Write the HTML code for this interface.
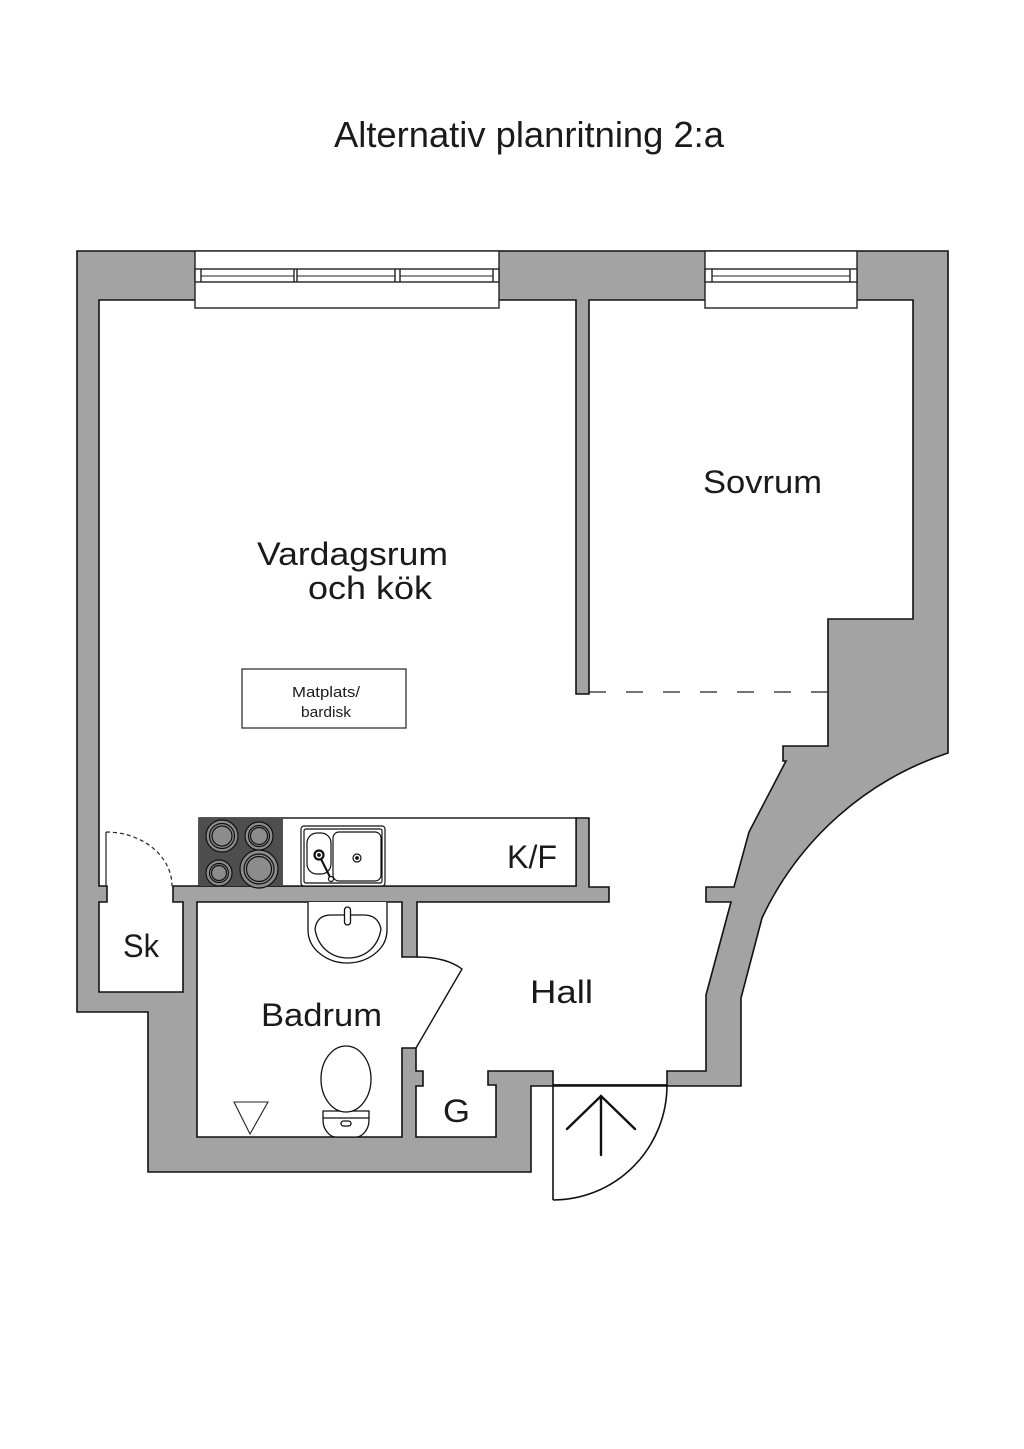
<!DOCTYPE html>
<html><head><meta charset="utf-8"><style>
html,body{margin:0;padding:0;background:#fff;}
svg{display:block;}
text{font-family:"Liberation Sans","DejaVu Sans",sans-serif;fill:#1a1a1a;}
</style></head><body>
<svg width="1024" height="1449" viewBox="0 0 1024 1449" xmlns="http://www.w3.org/2000/svg">
<rect width="1024" height="1449" fill="#fff"/>
<text x="334" y="147" font-size="36" textLength="390" lengthAdjust="spacingAndGlyphs">Alternativ planritning 2:a</text>

<!-- outer walls -->
<path d="M77,251 L948,251 L948,753 A314,314 0 0 0 762,918 L741,998 L741,1086 L553,1086 L531,1086 L531,1172 L148,1172 L148,1012 L77,1012 Z" fill="#a3a3a3" stroke="#111" stroke-width="1.6" stroke-linejoin="miter"/>

<!-- interior -->
<path d="M99,300 L576,300 L576,694 L589,694 L589,300 L913,300 L913,619 L828,619 L828,746 L783,746 L783,761 L786,761 L749,832 L734,887 L706,887 L706,902 L731,902 L706,995 L706,1071 L667,1071 L667,1085 L553,1085 L553,1071 L488,1071 L488,1085 L496,1085 L496,1137 L416,1137 L416,1086 L423,1086 L423,1071 L416,1071 L416,1048 L402,1048 L402,1137 L197,1137 L197,902 L402,902 L402,957 L417,957 L417,902 L609,902 L609,887 L589,887 L589,818 L576,818 L576,886 L173,886 L173,902 L183,902 L183,992 L99,992 L99,902 L107,902 L107,886 L99,886 Z" fill="#fff" stroke="#111" stroke-width="1.6"/>

<!-- windows -->
<g stroke="#222" stroke-width="1.4" fill="#fff">
<rect x="195" y="251" width="304" height="57"/>
<rect x="195" y="269" width="304" height="13"/>
<line x1="201" y1="269" x2="201" y2="282"/>
<line x1="294" y1="269" x2="294" y2="282"/>
<line x1="297" y1="269" x2="297" y2="282"/>
<line x1="395" y1="269" x2="395" y2="282"/>
<line x1="400" y1="269" x2="400" y2="282"/>
<line x1="493" y1="269" x2="493" y2="282"/>
<line x1="201" y1="276" x2="294" y2="276" stroke-width="1"/>
<line x1="297" y1="276" x2="395" y2="276" stroke-width="1"/>
<line x1="400" y1="276" x2="493" y2="276" stroke-width="1"/>
<rect x="705" y="251" width="152" height="57"/>
<rect x="705" y="269" width="152" height="13"/>
<line x1="712" y1="269" x2="712" y2="282"/>
<line x1="850" y1="269" x2="850" y2="282"/>
<line x1="712" y1="276" x2="850" y2="276" stroke-width="1"/>
</g>

<!-- dashed line -->
<line x1="589" y1="692" x2="828" y2="692" stroke="#222" stroke-width="1.2" stroke-dasharray="17 20"/>

<!-- Matplats box -->
<rect x="242" y="669" width="164" height="59" fill="#fff" stroke="#333" stroke-width="1.3"/>
<text x="292" y="697" font-size="15" textLength="68" lengthAdjust="spacingAndGlyphs">Matplats/</text>
<text x="301" y="717" font-size="15" textLength="50" lengthAdjust="spacingAndGlyphs">bardisk</text>

<!-- kitchen counter -->
<rect x="199" y="818" width="377" height="68" fill="#fff" stroke="#111" stroke-width="1.4"/>
<rect x="199" y="818" width="84" height="68" fill="#4e4e4e"/>
<g stroke="#111" stroke-width="1.2" fill="#8c8c8c">
<circle cx="222" cy="836" r="16"/><circle cx="222" cy="836" r="12.5" fill="none"/><circle cx="222" cy="836" r="10"/>
<circle cx="259" cy="836" r="14"/><circle cx="259" cy="836" r="10.5" fill="none"/><circle cx="259" cy="836" r="8.5"/>
<circle cx="219" cy="873" r="13"/><circle cx="219" cy="873" r="9.5" fill="none"/><circle cx="219" cy="873" r="7.5"/>
<circle cx="259" cy="869" r="19"/><circle cx="259" cy="869" r="15" fill="none"/><circle cx="259" cy="869" r="12.5"/>
</g>
<!-- sink -->
<g stroke="#111" stroke-width="1.2" fill="#fff">
<rect x="301" y="826" width="84" height="60" rx="3"/>
<rect x="304" y="829" width="78" height="54" rx="2"/>
<rect x="307" y="833" width="24" height="41" rx="10"/>
<rect x="333" y="832" width="48" height="49" rx="6"/>
<circle cx="357" cy="858" r="4"/>
<circle cx="357" cy="858" r="1.3" fill="#111"/>
<line x1="319" y1="855" x2="330" y2="877" stroke-width="2"/>
<circle cx="331" cy="879" r="2.5"/>
<circle cx="319" cy="855" r="4.5" stroke-width="2.2"/>
<circle cx="319" cy="855" r="1.3" fill="#111"/>
</g>

<!-- bathroom sink -->
<g stroke="#111" stroke-width="1.3" fill="#fff">
<path d="M308,902 L308,930 C308,950 328,963 347,963 C367,963 387,950 387,930 L387,902"/>
<path d="M315,929 Q317,915 331,915 L364,915 Q378,915 381,929 C378,948 364,958 348,958 C332,958 318,948 315,929 Z"/>
<rect x="344.5" y="907" width="6" height="18" rx="3"/>
</g>

<!-- toilet -->
<g stroke="#111" stroke-width="1.3" fill="#fff">
<path d="M323,1111 L369,1111 L369,1120 C369,1130 362,1137 356,1137 L336,1137 C330,1137 323,1130 323,1120 Z"/>
<line x1="323" y1="1118" x2="369" y2="1118"/>
<ellipse cx="346" cy="1079" rx="25" ry="33"/>
<rect x="341" y="1121" width="10" height="5" rx="2.5"/>
</g>

<!-- floor drain -->
<path d="M234,1102 L268,1102 L250,1134 Z" fill="#fff" stroke="#222" stroke-width="1.1"/>

<!-- Sk door -->
<line x1="106" y1="832" x2="106" y2="886" stroke="#222" stroke-width="1.2"/>
<path d="M106,832 A66,54 0 0 1 172,886" fill="none" stroke="#222" stroke-width="1.2" stroke-dasharray="4 3"/>

<!-- bathroom door -->
<path d="M417,957 Q446,957 462,969 L416,1048" fill="none" stroke="#111" stroke-width="1.4"/>

<!-- entrance door -->
<line x1="553" y1="1085" x2="553" y2="1200" stroke="#111" stroke-width="1.6"/>
<path d="M553,1200 A114,115 0 0 0 667,1085" fill="none" stroke="#111" stroke-width="1.6"/>
<line x1="553" y1="1085" x2="667" y2="1085" stroke="#111" stroke-width="1.5"/>
<g stroke="#111" stroke-width="2.4" fill="none" stroke-linecap="round">
<line x1="601" y1="1096" x2="601" y2="1155"/>
<polyline points="567,1129 601,1096 635,1129"/>
</g>

<!-- labels -->
<text x="257" y="565" font-size="32" textLength="191" lengthAdjust="spacingAndGlyphs">Vardagsrum</text>
<text x="308" y="599" font-size="32" textLength="124" lengthAdjust="spacingAndGlyphs">och kök</text>
<text x="703" y="493" font-size="32" textLength="119" lengthAdjust="spacingAndGlyphs">Sovrum</text>
<text x="507" y="868" font-size="32" textLength="50" lengthAdjust="spacingAndGlyphs">K/F</text>
<text x="123" y="957" font-size="32" textLength="36" lengthAdjust="spacingAndGlyphs">Sk</text>
<text x="530" y="1003" font-size="32" textLength="63" lengthAdjust="spacingAndGlyphs">Hall</text>
<text x="261" y="1026" font-size="32" textLength="121" lengthAdjust="spacingAndGlyphs">Badrum</text>
<text x="443" y="1122" font-size="32" textLength="27" lengthAdjust="spacingAndGlyphs">G</text>
</svg>
</body></html>
